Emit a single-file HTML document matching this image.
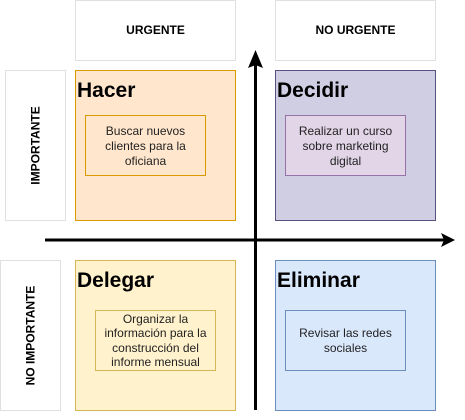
<!DOCTYPE html>
<html><head><meta charset="utf-8"><style>
html,body{margin:0;padding:0;background:#fff;}
svg{display:block;font-family:"Liberation Sans",Arial,sans-serif;}
</style></head><body>
<svg width="465" height="420" viewBox="0 0 465 420" xmlns="http://www.w3.org/2000/svg">
<rect x="75.5" y="0.5" width="160" height="60" fill="#fff" stroke="#e0e0e0"/>
<text x="155.5" y="34" font-size="12" font-weight="bold" text-anchor="middle">URGENTE</text>
<rect x="275.5" y="0.5" width="160" height="60" fill="#fff" stroke="#e0e0e0"/>
<text x="355.5" y="34" font-size="12" font-weight="bold" text-anchor="middle">NO URGENTE</text>
<rect x="5.5" y="70.5" width="60" height="150" fill="#fff" stroke="#e0e0e0"/>
<text transform="translate(39.5,145.5) rotate(-90)" font-size="12" font-weight="bold" text-anchor="middle">IMPORTANTE</text>
<rect x="0.5" y="260.5" width="60" height="150" fill="#fff" stroke="#e0e0e0"/>
<text transform="translate(34.5,335.5) rotate(-90)" font-size="12" font-weight="bold" text-anchor="middle">NO IMPORTANTE</text>
<rect x="75.5" y="70.5" width="160" height="150" fill="#ffe6cc" stroke="#d79b00"/>
<text x="77" y="97" font-size="21" font-weight="bold">Hacer</text>
<rect x="85.5" y="115.5" width="120" height="60" fill="#ffe6cc" stroke="#d79b00"/>
<text font-size="12" text-anchor="middle" fill="#222"><tspan x="145.5" y="135">Buscar nuevos</tspan><tspan x="145.5" y="150">clientes para la</tspan><tspan x="145.5" y="165">oficiana</tspan></text>
<rect x="275.5" y="70.5" width="160" height="150" fill="#d0cee2" stroke="#56517e"/>
<text x="277" y="97" font-size="21" font-weight="bold">Decidir</text>
<rect x="285.5" y="115.5" width="120" height="60" fill="#e1d5e7" stroke="#9673a6"/>
<text font-size="12" text-anchor="middle" fill="#222"><tspan x="345.5" y="135">Realizar un curso</tspan><tspan x="345.5" y="150">sobre marketing</tspan><tspan x="345.5" y="165">digital</tspan></text>
<rect x="75.5" y="260.5" width="160" height="150" fill="#fff2cc" stroke="#d6b656"/>
<text x="77" y="287" font-size="21" font-weight="bold">Delegar</text>
<rect x="95.5" y="310.5" width="120" height="60" fill="#fff2cc" stroke="#d6b656"/>
<text font-size="12" text-anchor="middle" fill="#222"><tspan x="155.5" y="323">Organizar la</tspan><tspan x="155.5" y="337">información para la</tspan><tspan x="155.5" y="352">construcción del</tspan><tspan x="155.5" y="366">informe mensual</tspan></text>
<rect x="275.5" y="260.5" width="160" height="150" fill="#dae8fc" stroke="#6c8ebf"/>
<text x="277" y="287" font-size="21" font-weight="bold">Eliminar</text>
<rect x="285.5" y="310.5" width="120" height="60" fill="#dae8fc" stroke="#6c8ebf"/>
<text font-size="12" text-anchor="middle" fill="#222"><tspan x="345.5" y="337">Revisar las redes</tspan><tspan x="345.5" y="352">sociales</tspan></text>
<line x1="45" y1="240" x2="445" y2="240" stroke="#000" stroke-width="3"/>
<path d="M455,240 L441,233 L444,240 L441,247 Z" fill="#000"/>
<line x1="255.5" y1="410" x2="255.5" y2="62" stroke="#000" stroke-width="3"/>
<path d="M255.5,50 L248,68 L255.5,65 L263,68 Z" fill="#000"/>
</svg>
</body></html>
